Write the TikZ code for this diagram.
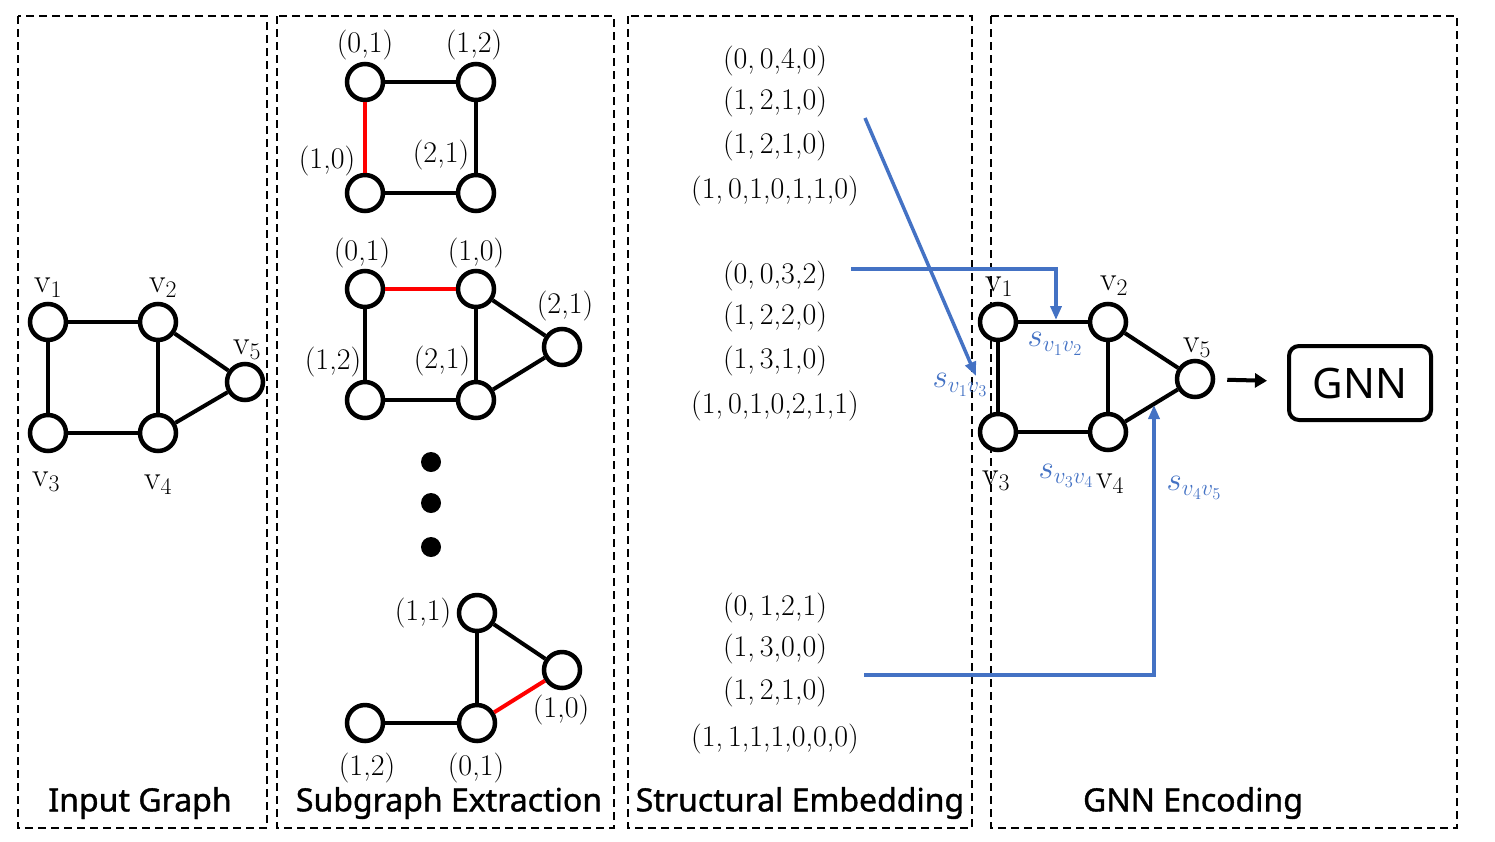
\RequirePackage{fix-cm}
\documentclass[tikz,border=0pt]{standalone}
\usepackage{fontspec}
\setsansfont{Noto Sans}
\newfontfamily\ttlfont[FakeBold=1.2]{Noto Sans}
\usetikzlibrary{arrows.meta}
\definecolor{myblue}{RGB}{68,114,196}
\begin{document}
\begin{tikzpicture}[x=1pt,y=-1pt,
  vtx/.style={circle,draw,line width=4.5pt,minimum size=36pt,inner sep=0pt,fill=white},
  edge/.style={line width=4pt},
  redge/.style={line width=4pt,red},
  panel/.style={draw,line width=1.8pt,dash pattern=on 8pt off 5pt},
  lab/.style={font=\fontsize{30}{34}\selectfont,inner sep=0pt},
  vlab/.style={font=\fontsize{34}{38}\selectfont,inner sep=0pt},
  emb/.style={font=\fontsize{30}{34}\selectfont,inner sep=0pt},
  slab/.style={font=\fontsize{33}{37}\selectfont,text=myblue,inner sep=0pt},
  ttl/.style={font=\ttlfont\fontsize{32}{36}\selectfont,inner sep=0pt},
  barrow/.style={line width=3.5pt,myblue,-{Triangle[length=14pt,width=11pt]}},
  dot/.style={circle,fill=black,minimum size=20pt,inner sep=0pt},
]
\useasboundingbox (0,0) rectangle (1495,841);

% panels
\draw[panel] (18,16) rectangle (267,828);
\draw[panel] (277,16) rectangle (614,828);
\draw[panel] (628,16) rectangle (972,828);
\draw[panel] (991,16) rectangle (1457,828);

% titles
\node[ttl] (t1) at (140,803) {Input Graph};
\node[ttl] (t2) at (449,803) {Subgraph Extraction};
\node[ttl] (t3) at (800,803) {Structural Embedding};
\node[ttl] (t4) at (1193,803) {GNN Encoding};

% input graph
\node[vtx] (a1) at (48,322) {};
\node[vtx] (a2) at (158,322) {};
\node[vtx] (a3) at (48,433) {};
\node[vtx] (a4) at (158,433) {};
\node[vtx] (a5) at (245,382) {};
\draw[edge] (a1) -- (a2); \draw[edge] (a1) -- (a3);
\draw[edge] (a3) -- (a4); \draw[edge] (a2) -- (a4);
\draw[edge] (a2) -- (a5); \draw[edge] (a4) -- (a5);
\node[vlab] (la1) at (48,288) {$\mathrm{v}_1$};
\node[vlab] (la2) at (163,288) {$\mathrm{v}_2$};
\node[vlab] (la5) at (247,350) {$\mathrm{v}_5$};
\node[vlab] (la3) at (46,482) {$\mathrm{v}_3$};
\node[vlab] (la4) at (158,485) {$\mathrm{v}_4$};

% subgraph 1
\node[vtx] (p1) at (365,82) {};
\node[vtx] (p2) at (476,82) {};
\node[vtx] (p3) at (365,193) {};
\node[vtx] (p4) at (476,193) {};
\draw[edge] (p1) -- (p2); \draw[edge] (p2) -- (p4); \draw[edge] (p3) -- (p4);
\draw[redge] (p1) -- (p3);
\node[lab] (lp1) at (365,45) {(0,1)};
\node[lab] (lp2) at (474,45) {(1,2)};
\node[lab] (lp3) at (327,161) {(1,0)};
\node[lab] (lp4) at (441,155) {(2,1)};

% subgraph 2
\node[vtx] (q1) at (365,289) {};
\node[vtx] (q2) at (476,289) {};
\node[vtx] (q3) at (365,400) {};
\node[vtx] (q4) at (476,400) {};
\node[vtx] (q5) at (562,347) {};
\draw[edge] (q1) -- (q3); \draw[edge] (q3) -- (q4); \draw[edge] (q2) -- (q4);
\draw[edge] (q2) -- (q5); \draw[edge] (q4) -- (q5);
\draw[redge] (q1) -- (q2);
\node[lab] (lq1) at (362,253) {(0,1)};
\node[lab] (lq2) at (476,253) {(1,0)};
\node[lab] (lq5) at (565,306) {(2,1)};
\node[lab] (lq3) at (333,362) {(1,2)};
\node[lab] (lq4) at (442,361) {(2,1)};

% dots
\node[dot] (d1) at (431,462) {};
\node[dot] (d2) at (431,503) {};
\node[dot] (d3) at (431,547) {};

% subgraph 3
\node[vtx] (r1) at (477,613) {};
\node[vtx] (r2) at (562,670) {};
\node[vtx] (r3) at (477,723) {};
\node[vtx] (r4) at (365,723) {};
\draw[edge] (r1) -- (r3); \draw[edge] (r1) -- (r2); \draw[edge] (r4) -- (r3);
\draw[redge] (r3) -- (r2);
\node[lab] (lr1) at (423,613) {(1,1)};
\node[lab] (lr2) at (561,710) {(1,0)};
\node[lab] (lr4) at (367,768) {(1,2)};
\node[lab] (lr3) at (476,768) {(0,1)};

% structural embedding texts
\node[emb] (e1) at (775,61) {(0,\,0,4,0)};
\node[emb] (e2) at (775,102) {(1,\,2,1,0)};
\node[emb] (e3) at (775,146) {(1,\,2,1,0)};
\node[emb] (e4) at (775,191) {(1,\,0,1,0,1,1,0)};
\node[emb] (e5) at (775,276) {(0,\,0,3,2)};
\node[emb] (e6) at (775,317) {(1,\,2,2,0)};
\node[emb] (e7) at (775,361) {(1,\,3,1,0)};
\node[emb] (e8) at (775,406) {(1,\,0,1,0,2,1,1)};
\node[emb] (e9) at (775,608) {(0,\,1,2,1)};
\node[emb] (e10) at (775,649) {(1,\,3,0,0)};
\node[emb] (e11) at (775,692) {(1,\,2,1,0)};
\node[emb] (e12) at (775,739) {(1,\,1,1,1,0,0,0)};

% GNN graph
\node[vtx] (g1) at (998,322) {};
\node[vtx] (g2) at (1108,322) {};
\node[vtx] (g3) at (998,432) {};
\node[vtx] (g4) at (1108,432) {};
\node[vtx] (g5) at (1195,379) {};
\draw[edge] (g1) -- (g2); \draw[edge] (g1) -- (g3);
\draw[edge] (g3) -- (g4); \draw[edge] (g2) -- (g4);
\draw[edge] (g2) -- (g5); \draw[edge] (g4) -- (g5);
\node[vlab] (lg1) at (999,287) {$\mathrm{v}_1$};
\node[vlab] (lg2) at (1114,286) {$\mathrm{v}_2$};
\node[vlab] (lg5) at (1197,348) {$\mathrm{v}_5$};
\node[vlab] (lg3) at (996,481) {$\mathrm{v}_3$};
\node[vlab] (lg4) at (1110,484) {$\mathrm{v}_4$};

% blue labels
\node[slab] (s12) at (1055,344) {$s_{v_1v_2}$};
\node[slab] (s13) at (960,385) {$s_{v_1v_3}$};
\node[slab] (s34) at (1066,476) {$s_{v_3v_4}$};
\node[slab] (s45) at (1194,488) {$s_{v_4v_5}$};

% GNN box
\node[draw,line width=4pt,rounded corners=10pt,minimum width=142pt,minimum height=74pt,
  font=\sffamily\fontsize{42}{46}\selectfont] (gnn) at (1360,383) {GNN};
\draw[line width=4pt,-{Triangle[length=12pt,width=14pt]},shorten <=12pt,shorten >=20pt] (g5) -- (gnn);

% blue arrows
\coordinate (b1s) at (865,118);
\coordinate (b1e) at (976,376);
\coordinate (b2s) at (851,269);
\coordinate (b2e) at (1056,320);
\coordinate (b3s) at (864,675);
\coordinate (b3e) at (1154,405);
\draw[barrow] (b1s) -- (b1e);
\draw[barrow] (b2s) -| (b2e);
\draw[barrow] (b3s) -| (b3e);
\end{tikzpicture}
\end{document}
